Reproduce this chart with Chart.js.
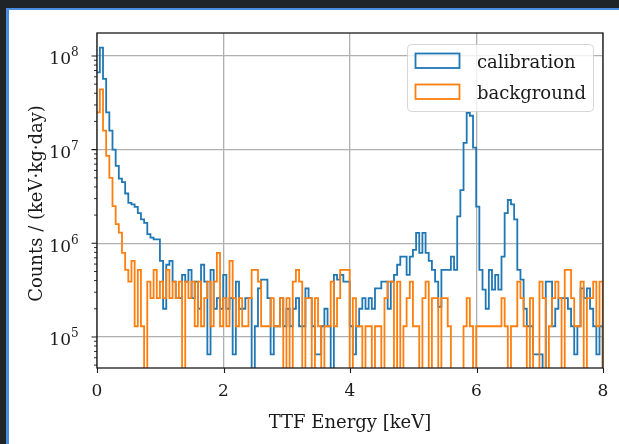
<!DOCTYPE html>
<html>
<head>
<meta charset="utf-8">
<script src="https://cdn.jsdelivr.net/npm/chart.js@4.4.0/dist/chart.umd.min.js"></script>
<style>
  html, body { margin: 0; padding: 0; width: 619px; height: 444px; background: #1e2428; overflow: hidden; }
  .panel {
    position: absolute; left: 6px; top: 8px; width: 610px; height: 434px;
    background: #fff; border-left: 3px solid #4a8ddf; border-top: 2px solid #4a8ddf;
  }
  #spectrum { position: absolute; left: 0; top: 0; }
</style>
</head>
<body>
<div class="panel"></div>
<canvas id="spectrum" width="619" height="444"></canvas>
<script>
// histogram bins (keV)
const binWidth = 0.05;
const firstEdge = -0.005;

// counts / (keV kg day) per bin, 0 = empty bin
const calibration = [
  6.7e7, 1.23e8, 5.7e7, 2.5e7, 1.6e7, 1.0e7, 6.7e6, 4.9e6, 4.5e6, 3.4e6,
  2.7e6, 2.6e6, 2.45e6, 2.1e6, 1.8e6, 1.65e6, 1.25e6, 1.15e6, 1.1e6, 1.1e6,
  6.5e5, 2.0e5, 5.9e5, 6.5e5, 3.9e5, 2.6e5, 2.6e5, 4.6e5, 3.9e5, 5.2e5,
  2.6e5, 3.9e5, 2.0e5, 5.9e5, 3.9e5, 6.5e4, 5.2e5, 2.0e5, 2.6e5, 2.0e5,
  4.6e5, 2.0e5, 2.6e5, 6.5e4, 3.9e5, 2.0e5, 2.0e5, 2.6e5, 2.6e5, 0,
  1.3e5, 3.3e5, 4.1e5, 4.1e5, 2.6e5, 6.5e4, 1.3e5, 1.3e5, 2.6e5, 1.3e5,
  2.0e5, 1.3e5, 2.0e5, 2.6e5, 1.3e5, 1.3e5, 3.3e5, 2.6e5, 1.3e5, 6.5e4,
  6.5e4, 1.3e5, 2.0e5, 1.3e5, 0, 4.6e5, 4.1e5, 4.6e5, 3.9e5, 3.9e5,
  1.3e5, 6.5e4, 1.3e5, 2.0e5, 2.6e5, 2.0e5, 2.6e5, 2.0e5, 3.3e5, 3.3e5,
  3.9e5, 3.9e5, 2.0e5, 3.9e5, 4.6e5, 5.9e5, 7.2e5, 7.2e5, 4.6e5, 7.2e5,
  8.5e5, 1.29e6, 7.9e5, 1.29e6, 7.9e5, 6.5e5, 5.2e5, 3.9e5, 2.1e5, 5.2e5,
  5.2e5, 5.2e5, 7.2e5, 5.2e5, 1.94e6, 3.7e6, 1.18e7, 2.47e7, 2.3e7, 1.05e7,
  2.46e6, 5.2e5, 3.2e5, 2.0e5, 5.2e5, 3.2e5, 4.6e5, 3.2e5, 7.2e5, 2.1e6,
  2.9e6, 2.6e6, 1.8e6, 5.2e5, 4.1e5, 2.0e5, 1.3e5, 1.3e5, 6.5e4, 6.5e4,
  6.5e4, 0, 3.9e5, 3.9e5, 1.3e5, 2.0e5, 2.6e5, 2.6e5, 2.6e5, 2.0e5,
  1.3e5, 6.5e4, 1.3e5, 3.3e5, 2.6e5, 3.3e5, 2.0e5, 1.3e5, 6.5e4, 1.3e5
];

const background = [
  2.5e7, 4.4e7, 1.6e7, 8.6e6, 5.0e6, 2.5e6, 1.6e6, 1.3e6, 7.9e5, 5.2e5,
  3.9e5, 6.5e5, 1.3e5, 5.2e5, 1.3e5, 0, 3.9e5, 2.6e5, 5.2e5, 2.6e5,
  3.9e5, 2.6e5, 5.2e5, 2.6e5, 3.9e5, 2.6e5, 3.9e5, 0, 3.9e5, 2.6e5,
  3.9e5, 1.3e5, 3.9e5, 1.3e5, 2.6e5, 3.9e5, 1.3e5, 3.9e5, 7.9e5, 1.3e5,
  2.6e5, 1.3e5, 6.5e5, 2.6e5, 1.3e5, 2.6e5, 1.3e5, 1.3e5, 2.6e5, 5.2e5,
  5.2e5, 3.9e5, 1.3e5, 1.3e5, 1.3e5, 2.6e5, 1.3e5, 1.3e5, 2.6e5, 0,
  2.6e5, 0, 3.9e5, 5.2e5, 3.9e5, 0, 2.6e5, 2.6e5, 0, 2.6e5,
  1.3e5, 0, 1.3e5, 1.3e5, 3.9e5, 1.3e5, 2.6e5, 5.2e5, 5.2e5, 5.2e5,
  0, 2.6e5, 1.3e5, 1.3e5, 0, 1.3e5, 1.3e5, 0, 1.3e5, 1.3e5,
  0, 2.6e5, 3.9e5, 3.9e5, 0, 3.9e5, 0, 1.3e5, 2.6e5, 3.9e5,
  1.3e5, 1.3e5, 0, 2.6e5, 3.9e5, 0, 2.6e5, 2.6e5, 0, 2.6e5,
  2.6e5, 1.3e5, 0, 0, 0, 0, 1.3e5, 2.6e5, 1.3e5, 0,
  1.3e5, 1.3e5, 1.3e5, 1.3e5, 1.3e5, 1.3e5, 1.3e5, 1.3e5, 2.6e5, 1.3e5,
  0, 1.3e5, 1.3e5, 3.9e5, 2.6e5, 1.3e5, 0, 2.6e5, 0, 0,
  3.9e5, 2.6e5, 0, 1.3e5, 2.6e5, 3.9e5, 2.6e5, 0, 5.2e5, 5.2e5,
  2.6e5, 1.3e5, 1.3e5, 3.9e5, 0, 2.6e5, 2.6e5, 3.9e5, 1.3e5, 3.9e5
];

const xTicks = [0, 2, 4, 6, 8];
const xTickLabels = ["0", "2", "4", "6", "8"];
const yDecades = [1e5, 1e6, 1e7, 1e8];
const yTickExps = ["5", "6", "7", "8"];

const FONT = "'DejaVu Serif', serif";
const FLOOR = 1; // empty bins drop below the axis (like log(0) in matplotlib)

// outline of a step histogram
function stepPoints(values) {
  const pts = [{ x: firstEdge, y: FLOOR }];
  values.forEach((v, i) => {
    pts.push({ x: firstEdge + i * binWidth, y: v > 0 ? v : FLOOR });
  });
  pts.push({ x: firstEdge + values.length * binWidth, y: FLOOR });
  return pts;
}

const decor = {
  id: "decor",
  afterDatasetsDraw(chart) {
    const ctx = chart.ctx;
    const a = chart.chartArea;
    const xs = chart.scales.x, ys = chart.scales.y;
    ctx.save();

    // spines
    ctx.strokeStyle = "#1a1a1a";
    ctx.lineWidth = 1.3;
    ctx.strokeRect(a.left, a.top, a.right - a.left, a.bottom - a.top);

    // ticks
    ctx.lineWidth = 1.1;
    ctx.beginPath();
    xTicks.forEach(v => {
      const px = Math.round(xs.getPixelForValue(v)) + 0.5;
      ctx.moveTo(px, a.bottom);
      ctx.lineTo(px, a.bottom + 5);
    });
    yDecades.forEach(d => {
      const py = ys.getPixelForValue(d);
      ctx.moveTo(a.left - 5.5, py);
      ctx.lineTo(a.left, py);
    });
    ctx.stroke();
    ctx.lineWidth = 0.9;
    ctx.beginPath();
    [1e4, 1e5, 1e6, 1e7, 1e8].forEach(d => {
      for (let m = 2; m <= 9; m++) {
        const v = m * d;
        if (v < ys.min || v > ys.max) continue;
        const py = ys.getPixelForValue(v);
        ctx.moveTo(a.left - 3, py);
        ctx.lineTo(a.left, py);
      }
    });
    ctx.stroke();

    // tick labels
    ctx.fillStyle = "#1a1a1a";
    ctx.font = "17px " + FONT;
    ctx.textAlign = "center";
    ctx.textBaseline = "alphabetic";
    xTicks.forEach((v, i) => {
      ctx.fillText(xTickLabels[i], xs.getPixelForValue(v), a.bottom + 28);
    });
    yDecades.forEach((d, i) => {
      const py = ys.getPixelForValue(d);
      ctx.font = "17px " + FONT;
      ctx.textAlign = "right";
      ctx.fillText("10", 71, py + 8.5);
      ctx.font = "12px " + FONT;
      ctx.textAlign = "left";
      ctx.fillText(yTickExps[i], 71, py + 0.5);
    });

    // axis titles
    ctx.font = "18px " + FONT;
    ctx.textAlign = "center";
    ctx.fillText("TTF Energy [keV]", (a.left + a.right) / 2, 427.5);
    ctx.save();
    ctx.translate(42, (a.top + a.bottom) / 2 + 3);
    ctx.rotate(-Math.PI / 2);
    ctx.fillText("Counts / (keV\u00b7kg\u00b7day)", 0, 0);
    ctx.restore();

    // legend
    const lx = 407.5, ly = 44.5, lw = 186, lh = 67, r = 4;
    ctx.beginPath();
    ctx.roundRect(lx, ly, lw, lh, r);
    ctx.fillStyle = "rgba(255,255,255,0.8)";
    ctx.fill();
    ctx.strokeStyle = "rgba(204,204,204,0.8)";
    ctx.lineWidth = 1;
    ctx.stroke();
    chart.data.datasets.forEach((ds, i) => {
      const top = 53.5 + i * 31;
      ctx.strokeStyle = ds.borderColor;
      ctx.lineWidth = 1.8;
      ctx.strokeRect(415.5, top, 44, 14.5);
      ctx.fillStyle = "#1a1a1a";
      ctx.font = "18px " + FONT;
      ctx.textAlign = "left";
      ctx.fillText(ds.label, 477, top + 14.5);
    });

    ctx.restore();
  }
};

new Chart(document.getElementById("spectrum"), {
  type: "line",
  data: {
    datasets: [
      {
        label: "calibration",
        data: stepPoints(calibration),
        borderColor: "#1f77b4",
        borderWidth: 1.8,
        stepped: "before",
        pointRadius: 0,
        fill: false,
        order: 1
      },
      {
        label: "background",
        data: stepPoints(background),
        borderColor: "#ff7f0e",
        borderWidth: 1.8,
        stepped: "before",
        pointRadius: 0,
        fill: false,
        order: 0
      }
    ]
  },
  options: {
    responsive: false,
    animation: false,
    events: [],
    layout: { padding: { left: 0, top: 33, right: 16, bottom: 0 } },
    plugins: { legend: { display: false }, tooltip: { enabled: false } },
    scales: {
      x: {
        type: "linear",
        min: 0,
        max: 8,
        afterBuildTicks: s => { s.ticks = xTicks.map(v => ({ value: v })); },
        afterFit: s => { s.height = 76; },
        ticks: { display: false },
        grid: { color: "#b0b0b0", lineWidth: 1.3, drawTicks: false },
        border: { display: false }
      },
      y: {
        type: "logarithmic",
        min: 4.66e4,
        max: 1.76e8,
        afterBuildTicks: s => { s.ticks = yDecades.map(v => ({ value: v })); },
        afterFit: s => { s.width = 97; },
        ticks: { display: false },
        grid: { color: "#b0b0b0", lineWidth: 1.3, drawTicks: false },
        border: { display: false }
      }
    }
  },
  plugins: [decor]
});
</script>
</body>
</html>
